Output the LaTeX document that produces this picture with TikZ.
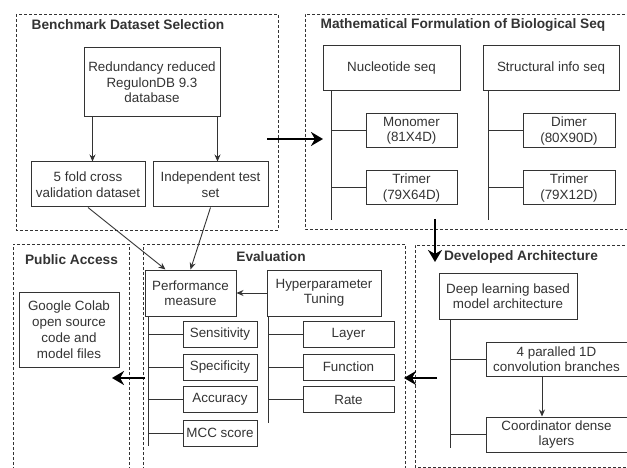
\documentclass[tikz,border=0pt]{standalone}
\usepackage{fontspec}
\setmainfont{Liberation Sans}
\usetikzlibrary{arrows.meta}
\definecolor{ink}{HTML}{333333}

\begin{document}
\begin{tikzpicture}[x=1pt,y=-1pt,
    box/.style={draw=ink,line width=1pt,text=ink,align=center,inner sep=0pt,
      font=\fontsize{13.4}{15.5}\selectfont},
    title/.style={text=ink,inner sep=0pt,font=\fontsize{13.7}{15.5}\selectfont\bfseries},
    group/.style={draw=ink,line width=0.8pt,dash pattern=on 3pt off 2pt},
    branch/.style={draw=ink,line width=1pt},
    thinarrow/.style={draw=ink,line width=0.9pt,-{Stealth[length=7pt,width=6pt]}},
    bigarrow/.style={draw=black,line width=2.5pt,-{Stealth[length=12pt,width=14pt]}}]
    \useasboundingbox (0,0) rectangle (627,468);

    % dashed groups
    \draw[group] (16,14) rectangle (278,230);%
    \draw[group] (630,14) -- (305,14) -- (305,229) -- (630,229);%
    \draw[group] (13,470) -- (13,244) -- (129,244) -- (129,470);%
    \draw[group] (143,470) -- (143,244) -- (405,244) -- (405,470);%
    \draw[group] (630,245) -- (415,245) -- (415,467) -- (630,467);%

    \node[title] (tbench) at (128,25) {Benchmark Dataset Selection};%
    \node[title] (tmath) at (463,25) {Mathematical Formulation of Biological Seq};%
    \node[title] (tpub) at (71.5,260) {Public Access};%
    \node[title] (teval) at (271,257) {Evaluation};%
    \node[title] (tdev) at (521,257) {Developed Architecture};%

    % benchmark dataset
    \node[box,minimum width=136pt,minimum height=69pt] (red) at (152,82.5) {Redundancy reduced\\RegulonDB 9.3\\database};%
    \node[box,minimum width=114pt,minimum height=45pt] (fold) at (88,184.5) {5 fold cross\\validation dataset};%
    \node[box,minimum width=115pt,minimum height=45pt] (indep) at (210.5,184.5) {Independent test\\set};%

    % mathematical formulation
    \node[box,minimum width=137pt,minimum height=45pt] (nuc) at (391.5,68.5) {Nucleotide seq};%
    \node[box,minimum width=136pt,minimum height=45pt] (struct) at (551,68.5) {Structural info seq};%
    \node[box,minimum width=91pt,minimum height=34pt] (mono) at (411.5,131) {Monomer\\(81X4D)};%
    \node[box,minimum width=91pt,minimum height=34pt] (trin) at (411.5,188) {Trimer\\(79X64D)};%
    \node[box,minimum width=92pt,minimum height=34pt] (dimer) at (569,131) {Dimer\\(80X90D)};%
    \node[box,minimum width=92pt,minimum height=34pt] (tris) at (569,188) {Trimer\\(79X12D)};%

    % evaluation
    \node[box,minimum width=91pt,minimum height=46pt] (perf) at (190.5,293) {Performance\\measure};%
    \node[box,minimum width=114pt,minimum height=46pt] (hyper) at (324,293) {Hyperparameter\\Tuning};%
    \node[box,minimum width=74pt,minimum height=26pt] (sens) at (220,334) {Sensitivity};%
    \node[box,minimum width=74pt,minimum height=26pt] (spec) at (220,367) {Specificity};%
    \node[box,minimum width=74pt,minimum height=26pt] (acc) at (220,399.5) {Accuracy};%
    \node[box,minimum width=74pt,minimum height=26pt] (mcc) at (220,433) {MCC score};%
    \node[box,minimum width=91pt,minimum height=26pt] (layer) at (348.5,334) {Layer};%
    \node[box,minimum width=91pt,minimum height=26pt] (func) at (348.5,367) {Function};%
    \node[box,minimum width=91pt,minimum height=26pt] (rate) at (348.5,399.5) {Rate};%

    % public access
    \node[box,minimum width=100pt,minimum height=75pt,font=\fontsize{13.4}{16}\selectfont] (colab) at (69,329.5) {Google Colab\\open source\\code and\\model files};%

    % developed architecture
    \node[box,minimum width=138pt,minimum height=46pt] (deep) at (508,296) {Deep learning based\\model architecture};%
    \node[box,minimum width=141pt,minimum height=34pt] (par) at (556.5,359) {4 paralled 1D\\convolution branches};%
    \node[box,minimum width=141pt,minimum height=35pt] (coord) at (556.5,434.5) {Coordinator dense\\layers};%

    % branch lines
    \coordinate (nucend) at (331,220);%
    \draw[branch] (nuc.south -| nucend) -- (nucend);%
    \draw[branch] (mono.west -| nucend) -- (mono.west);%
    \draw[branch] (trin.west -| nucend) -- (trin.west);%
    \coordinate (structend) at (488,220);%
    \draw[branch] (struct.south -| structend) -- (structend);%
    \draw[branch] (dimer.west -| structend) -- (dimer.west);%
    \draw[branch] (tris.west -| structend) -- (tris.west);%
    \coordinate (perfend) at (148,446);%
    \draw[branch] (perf.south -| perfend) -- (perfend);%
    \draw[branch] (sens.west -| perfend) -- (sens.west);%
    \draw[branch] (spec.west -| perfend) -- (spec.west);%
    \draw[branch] (acc.west -| perfend) -- (acc.west);%
    \draw[branch] (mcc.west -| perfend) -- (mcc.west);%
    \coordinate (hyperend) at (268,423);%
    \draw[branch] (hyper.south -| hyperend) -- (hyperend);%
    \draw[branch] (layer.west -| hyperend) -- (layer.west);%
    \draw[branch] (func.west -| hyperend) -- (func.west);%
    \draw[branch] (rate.west -| hyperend) -- (rate.west);%
    \coordinate (deepend) at (450,448);%
    \draw[branch] (deep.south -| deepend) -- (deepend);%
    \draw[branch] (par.west -| deepend) -- (par.west);%
    \draw[branch] (coord.west -| deepend) -- (coord.west);%

    % thin arrows
    \draw[thinarrow] ([xshift=9pt]red.south west) -- ([xshift=9pt]red.south west |- fold.north);%
    \draw[thinarrow] ([xshift=-3pt]red.south east) -- ([xshift=-3pt]red.south east |- indep.north);%
    \draw[thinarrow] (fold.south) -- ([xshift=-25pt]perf.north);%
    \draw[thinarrow] (indep.south) -- (perf.north);%
    \draw[thinarrow] (hyper.west) -- (perf.east);%
    \draw[thinarrow] ([xshift=-14.5pt]par.south) -- ([xshift=-14.5pt]coord.north);%

    % big arrows between stages
    \coordinate (benchout) at (267,139);%
    \coordinate (mathin) at (323,139);%
    \coordinate (mathout) at (435,219);%
    \coordinate (devin) at (435,262);%
    \coordinate (devout) at (437,378);%
    \coordinate (evalin) at (404,378);%
    \coordinate (evalout) at (145,378);%
    \coordinate (pubin) at (112,378);%
    \draw[bigarrow] (benchout) -- (mathin);%
    \draw[bigarrow] (mathout) -- (devin);%
    \draw[bigarrow] (devout) -- (evalin);%
    \draw[bigarrow] (evalout) -- (pubin);%
\end{tikzpicture}
\end{document}
